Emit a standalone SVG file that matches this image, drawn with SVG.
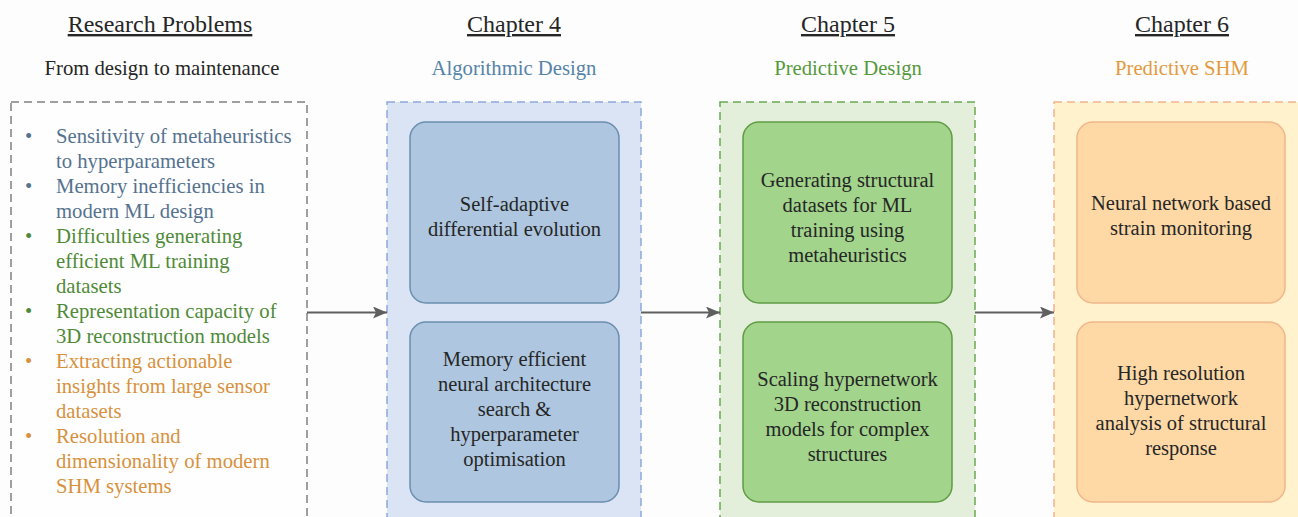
<svg xmlns="http://www.w3.org/2000/svg" width="1298" height="517" viewBox="0 0 1298 517" font-family="'Liberation Serif', 'Times New Roman', Times, serif">
  <style>
    .title { font-size: 24px; fill: #262626; text-anchor: middle; text-decoration: underline; }
    .sub { font-size: 20.7px; text-anchor: middle; }
    .node { font-size: 20.5px; fill: #262626; text-anchor: middle; }
    .item { font-size: 20.7px; }
    .blue { fill: #55728f; }
    .green { fill: #4f8a38; }
    .orange { fill: #d7913d; }
    .frame { stroke-width: 1.5; stroke-dasharray: 8 5; }
    .conn { stroke: #5f5f5f; stroke-width: 2; fill: none; marker-end: url(#arrow); }
  </style>
  <defs>
    <marker id="arrow" viewBox="0 0 14 12" refX="14" refY="6" markerWidth="14" markerHeight="12" markerUnits="userSpaceOnUse" orient="auto">
      <path d="M0,0 L14,6 L0,12 L3,6 Z" fill="#5f5f5f"/>
    </marker>
  </defs>

  <rect width="1298" height="517" fill="#fdfdfd"/>

  <!-- column headings -->
  <g id="headings">
    <text class="title" x="160" y="32">Research Problems</text>
    <text class="sub" x="162" y="75" fill="#262626">From design to maintenance</text>
    <text class="title" x="514" y="32">Chapter 4</text>
    <text class="sub" x="514" y="75" fill="#5683a8">Algorithmic Design</text>
    <text class="title" x="848" y="32">Chapter 5</text>
    <text class="sub" x="848" y="75" fill="#55993d">Predictive Design</text>
    <text class="title" x="1182" y="32">Chapter 6</text>
    <text class="sub" x="1182" y="75" fill="#e39a3e">Predictive SHM</text>
  </g>

  <!-- research problems list -->
  <g id="problems">
    <rect class="frame" x="11" y="102" width="296" height="430" fill="#fefefe" stroke="#808080"/>
    <g class="item blue">
      <text x="25" y="143">•</text>
      <text x="56" y="143">Sensitivity of metaheuristics</text>
      <text x="56" y="168">to hyperparameters</text>
      <text x="25" y="193">•</text>
      <text x="56" y="193">Memory inefficiencies in</text>
      <text x="56" y="218">modern ML design</text>
    </g>
    <g class="item green">
      <text x="25" y="243">•</text>
      <text x="56" y="243">Difficulties generating</text>
      <text x="56" y="268">efficient ML training</text>
      <text x="56" y="293">datasets</text>
      <text x="25" y="318">•</text>
      <text x="56" y="318">Representation capacity of</text>
      <text x="56" y="343">3D reconstruction models</text>
    </g>
    <g class="item orange">
      <text x="25" y="368">•</text>
      <text x="56" y="368">Extracting actionable</text>
      <text x="56" y="393">insights from large sensor</text>
      <text x="56" y="418">datasets</text>
      <text x="25" y="443">•</text>
      <text x="56" y="443">Resolution and</text>
      <text x="56" y="468">dimensionality of modern</text>
      <text x="56" y="493">SHM systems</text>
    </g>
  </g>

  <!-- chapter 4 -->
  <g id="chapter4">
    <rect class="frame" x="387" y="102" width="254" height="430" fill="#dbe4f4" stroke="#8ea8da"/>
  </g>
  <g id="ch4-de">
    <rect x="410" y="122" width="209" height="181" rx="16" fill="#aec6df" stroke="#6a8fae" stroke-width="1.5"/>
    <text class="node" x="514.5" y="211">Self-adaptive</text>
    <text class="node" x="514.5" y="236">differential evolution</text>
  </g>
  <g id="ch4-nas">
    <rect x="410" y="322" width="209" height="180" rx="16" fill="#aec6df" stroke="#6a8fae" stroke-width="1.5"/>
    <text class="node" x="514.5" y="366">Memory efficient</text>
    <text class="node" x="514.5" y="391">neural architecture</text>
    <text class="node" x="514.5" y="416">search &amp;</text>
    <text class="node" x="514.5" y="441">hyperparameter</text>
    <text class="node" x="514.5" y="466">optimisation</text>
  </g>

  <!-- chapter 5 -->
  <g id="chapter5">
    <rect class="frame" x="720" y="102" width="255" height="430" fill="#e3efda" stroke="#6aa950"/>
  </g>
  <g id="ch5-datasets">
    <rect x="743" y="122" width="209" height="181" rx="16" fill="#a2d48c" stroke="#5f9c45" stroke-width="1.5"/>
    <text class="node" x="847.5" y="187">Generating structural</text>
    <text class="node" x="847.5" y="212">datasets for ML</text>
    <text class="node" x="847.5" y="237">training using</text>
    <text class="node" x="847.5" y="262">metaheuristics</text>
  </g>
  <g id="ch5-hypernet">
    <rect x="743" y="322" width="209" height="180" rx="16" fill="#a2d48c" stroke="#5f9c45" stroke-width="1.5"/>
    <text class="node" x="847.5" y="386">Scaling hypernetwork</text>
    <text class="node" x="847.5" y="411">3D reconstruction</text>
    <text class="node" x="847.5" y="436">models for complex</text>
    <text class="node" x="847.5" y="461">structures</text>
  </g>

  <!-- chapter 6 -->
  <g id="chapter6">
    <rect class="frame" x="1054" y="102" width="260" height="430" fill="#fff2cd" stroke="#f2b38a"/>
  </g>
  <g id="ch6-strain">
    <rect x="1077" y="122" width="208" height="181" rx="16" fill="#fed9a6" stroke="#f0b68a" stroke-width="1.5"/>
    <text class="node" x="1181" y="210">Neural network based</text>
    <text class="node" x="1181" y="235">strain monitoring</text>
  </g>
  <g id="ch6-response">
    <rect x="1077" y="322" width="208" height="180" rx="16" fill="#fed9a6" stroke="#f0b68a" stroke-width="1.5"/>
    <text class="node" x="1181" y="380">High resolution</text>
    <text class="node" x="1181" y="405">hypernetwork</text>
    <text class="node" x="1181" y="430">analysis of structural</text>
    <text class="node" x="1181" y="455">response</text>
  </g>

  <!-- connectors -->
  <g id="connectors">
    <line class="conn" x1="307" y1="312.5" x2="387" y2="312.5"/>
    <line class="conn" x1="641" y1="312.5" x2="720" y2="312.5"/>
    <line class="conn" x1="975" y1="312.5" x2="1054" y2="312.5"/>
  </g>
</svg>
